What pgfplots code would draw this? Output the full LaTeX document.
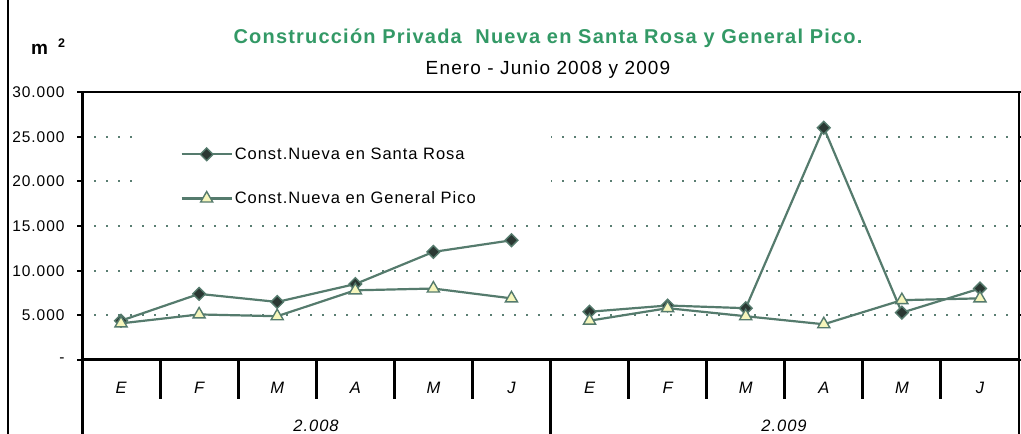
\documentclass[border=0pt]{standalone}
\usepackage{pgfplots}
\pgfplotsset{compat=1.18}
\usepackage{fontspec}
\setmainfont{Liberation Sans}[LetterSpace=6]
\definecolor{serie}{HTML}{557B6D}
\definecolor{gridc}{HTML}{5A7E72}
\definecolor{titgreen}{HTML}{339966}
\definecolor{diamf}{HTML}{2B3833}
\definecolor{trif}{HTML}{F6F6BC}
\begin{document}
\begin{tikzpicture}[x=1pt,y=1pt]
\useasboundingbox (0,0) rectangle (1021,434);
\begin{axis}[
  at={(82pt,74pt)}, anchor=south west,
  scale only axis, width=937pt, height=268pt,
  xmin=-0.5, xmax=11.5, ymin=0, ymax=30000,
  axis line style={draw=none},
  scaled y ticks=false,
  xtick={0,...,11},
  xticklabels={E,F,M,A,M,J,E,F,M,A,M,J},
  xtick style={draw=none},
  xticklabel style={font=\fontsize{16.5}{19}\selectfont\itshape, anchor=center, yshift=-23pt},
  ytick={0,5000,10000,15000,20000,25000,30000},
  yticklabels={-,5.000,10.000,15.000,20.000,25.000,30.000},
  ytick style={draw=black, line width=2pt},
  major tick length=5pt, tick align=outside,
  yticklabel style={font=\fontsize{15.5}{18}\selectfont, xshift=-9pt},
  xmajorgrids=false, ymajorgrids=true,
  grid style={draw=gridc, line width=2.2pt, dash pattern=on 2.2pt off 9.8pt},
  legend style={draw=none, fill=none, at={(rel axis cs:0.105,0.80)}, anchor=north west,
    font=\fontsize{16.5}{19}\selectfont, row sep=27pt, inner sep=0pt,
    /tikz/every even column/.append style={column sep=4pt}},
  legend cell align=left,
  legend image code/.code={\draw[line width=2.2pt, mark repeat=2,mark phase=2] plot coordinates {(0pt,0pt) (25pt,0pt) (50pt,0pt)};},
  clip=false,
]
\fill[white] (rel axis cs:0.062,0.55) rectangle (rel axis cs:0.5,0.92);
\addplot[serie, line width=2.2pt, mark=square*, mark size=4.5pt,
  mark options={rotate=45, fill=diamf, draw=serie, line width=1.4pt}]
  coordinates {(0,4400) (1,7400) (2,6500) (3,8500) (4,12100) (5,13400)};
\addlegendentry{Const.Nueva en Santa Rosa}
\addplot[serie, line width=2.2pt, mark=triangle*, mark size=7pt,
  mark options={fill=trif, draw=serie, line width=1.4pt}]
  coordinates {(0,4100) (1,5100) (2,4900) (3,7800) (4,8000) (5,6900)};
\addlegendentry{Const.Nueva en General Pico}
\addplot[serie, line width=2.2pt, mark=square*, mark size=4.5pt,
  mark options={rotate=45, fill=diamf, draw=serie, line width=1.4pt}, forget plot]
  coordinates {(6,5400) (7,6100) (8,5800) (9,26000) (10,5300) (11,8000)};
\addplot[serie, line width=2.2pt, mark=triangle*, mark size=7pt,
  mark options={fill=trif, draw=serie, line width=1.4pt}, forget plot]
  coordinates {(6,4400) (7,5800) (8,4900) (9,4000) (10,6700) (11,6900)};
\end{axis}
% frame lines
\draw[line width=1.5pt] (8,0) -- (8,434);
\draw[line width=1.4pt] (82,342) -- (1019,342) -- (1019,0);
\draw[line width=3pt] (82,342) -- (82,0);
\draw[line width=3pt] (80.5,74) -- (1019,74);
\foreach \k in {1,2,3,4,5,7,8,9,10,11} {
  \draw[line width=3pt] ({82+78.083*\k},74) -- ({82+78.083*\k},35);
}
\draw[line width=3pt] ({82+78.083*6},74) -- ({82+78.083*6},0);
\node[font=\fontsize{16.5}{19}\selectfont\itshape] at (316,8) {2.008};
\node[font=\fontsize{16.5}{19}\selectfont\itshape] at (784,8) {2.009};
% titles
\node[font=\fontsize{20}{23}\selectfont\bfseries, text=titgreen] at (548,396) {Construcción Privada\ \ Nueva en Santa Rosa y General Pico.};
\node[font=\fontsize{19}{22}\selectfont] at (548,364) {Enero - Junio 2008 y 2009};
\node[font=\fontsize{19}{22}\selectfont\bfseries] at (39.5,385) {m};
\node[font=\fontsize{12.5}{14}\selectfont\bfseries] at (61.5,391) {2};
\end{tikzpicture}
\end{document}
